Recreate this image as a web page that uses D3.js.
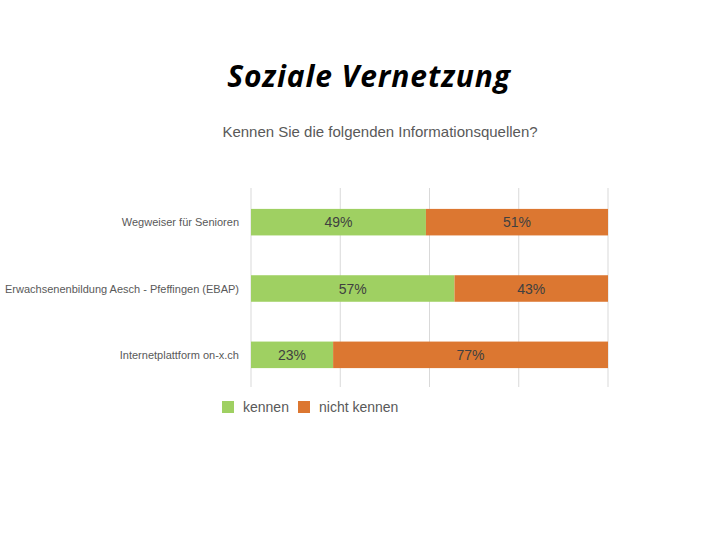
<!DOCTYPE html>
<html><head><meta charset="utf-8">
<script src="https://cdn.jsdelivr.net/npm/d3@7"></script>
<style>body{margin:0;background:#fff}svg{display:block}</style>
</head><body><svg id="c" width="720" height="540"></svg>
<script>
const categories = ["Wegweiser für Senioren", "Erwachsenenbildung Aesch - Pfeffingen (EBAP)", "Internetplattform on-x.ch"];
const kennen = [49, 57, 23];
const nichtKennen = [51, 43, 77];
const seriesNames = ["kennen", "nicht kennen"];
const colors = ["#9FD062", "#DC7731"];
const xTicks = [0, 25, 50, 75, 100];
const title = "Soziale Vernetzung";
const subtitle = "Kennen Sie die folgenden Informationsquellen?";

const svg = d3.select("#c");
const x = d3.scaleLinear().domain([0, 100]).range([251, 608]);
const y = d3.scaleBand().domain(categories).range([189, 388]).paddingInner(0.6).paddingOuter(0.3);

svg.append("text").attr("x", 369).attr("y", 87).attr("text-anchor", "middle")
  .attr("font-family", "Open Sans, sans-serif").attr("font-weight", "bold").attr("font-style", "italic")
  .attr("font-size", 30).attr("letter-spacing", 0.9).attr("fill", "#000").text(title);
svg.append("text").attr("x", 380).attr("y", 137).attr("text-anchor", "middle")
  .attr("font-family", "Liberation Sans, Arial, sans-serif").attr("font-size", 15).attr("fill", "#595959").text(subtitle);

svg.append("g").selectAll("line").data(xTicks).join("line")
  .attr("x1", d => x(d)).attr("x2", d => x(d)).attr("y1", 188).attr("y2", 387)
  .attr("stroke", "#d9d9d9").attr("stroke-width", 1);

const stacked = categories.map((c, i) => ({c, vals: [kennen[i], nichtKennen[i]]}));
stacked.forEach(d => {
  let acc = 0;
  d.vals.forEach((v, j) => {
    svg.append("rect").attr("x", x(acc)).attr("y", y(d.c)).attr("width", x(acc + v) - x(acc))
      .attr("height", y.bandwidth()).attr("fill", colors[j]);
    svg.append("text").attr("x", (x(acc) + x(acc + v)) / 2).attr("y", y(d.c) + y.bandwidth() / 2 + 5)
      .attr("text-anchor", "middle").attr("font-family", "Liberation Sans, Arial, sans-serif")
      .attr("font-size", 14).attr("fill", "#404040").text(v + "%");
    acc += v;
  });
});

svg.append("g").selectAll("text").data(categories).join("text")
  .attr("x", 239).attr("y", d => y(d) + y.bandwidth() / 2 + 4).attr("text-anchor", "end")
  .attr("font-family", "Liberation Sans, Arial, sans-serif").attr("font-size", 11).attr("fill", "#595959")
  .text(d => d);

const legX = [222, 298];
seriesNames.forEach((n, i) => {
  svg.append("rect").attr("x", legX[i]).attr("y", 401).attr("width", 12).attr("height", 12).attr("fill", colors[i]);
  svg.append("text").attr("x", legX[i] + 21).attr("y", 412).attr("font-family", "Liberation Sans, Arial, sans-serif")
    .attr("font-size", 14).attr("fill", "#595959").text(n);
});
</script></body></html>
